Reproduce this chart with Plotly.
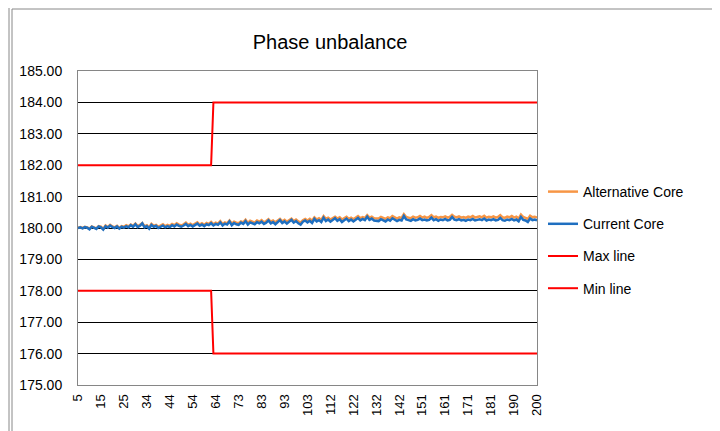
import plotly.graph_objects as go

# ---- data ----
tick_labels = ["5", "15", "25", "34", "44", "54", "64", "73", "83", "93", "103",
               "112", "122", "132", "142", "151", "161", "171", "181", "190", "200"]

current_core = [
    180.00, 180.02, 179.99, 180.03, 180.01, 179.96, 180.04, 180.00, 179.97, 180.05,
    180.02, 179.95, 180.06, 180.01, 180.08, 180.03, 180.00, 180.05, 179.98, 180.04,
    180.01, 180.06, 180.02, 180.09, 180.04, 180.12, 180.03, 180.07, 180.15, 180.02,
    180.06, 179.98, 180.10, 180.04, 180.07, 180.00, 180.05, 180.08, 180.02, 180.06,
    180.03, 180.09, 180.05, 180.11, 180.07, 180.04, 180.08, 180.13, 180.06, 180.10,
    180.05, 180.09, 180.14, 180.07, 180.11, 180.06, 180.12, 180.09, 180.15, 180.08,
    180.13, 180.10, 180.18, 180.08, 180.14, 180.11, 180.21, 180.09, 180.16, 180.12,
    180.10, 180.17, 180.13, 180.22, 180.11, 180.18, 180.14, 180.12, 180.19, 180.15,
    180.20, 180.13, 180.17, 180.24, 180.15, 180.19, 180.12, 180.18, 180.25, 180.16,
    180.21, 180.14, 180.19, 180.26, 180.17, 180.22, 180.15, 180.11, 180.20, 180.24,
    180.18, 180.23, 180.16, 180.29, 180.21, 180.25, 180.19, 180.33, 180.22, 180.27,
    180.20, 180.26, 180.31, 180.23, 180.28, 180.19, 180.25, 180.30, 180.22, 180.27,
    180.21, 180.26, 180.32, 180.24, 180.29, 180.25, 180.36, 180.26, 180.30, 180.24,
    180.23, 180.22, 180.28, 180.24, 180.21, 180.27, 180.23, 180.31, 180.25, 180.22,
    180.26, 180.24, 180.38, 180.27, 180.25, 180.23, 180.28, 180.24, 180.26, 180.30,
    180.25, 180.27, 180.24, 180.26, 180.33, 180.25, 180.28, 180.23, 180.27, 180.25,
    180.29, 180.24, 180.26, 180.35, 180.27, 180.25, 180.28, 180.24, 180.26, 180.23,
    180.27, 180.25, 180.29, 180.24, 180.26, 180.28, 180.25, 180.30, 180.24, 180.27,
    180.25, 180.28, 180.24, 180.26, 180.32, 180.25, 180.23, 180.27, 180.25, 180.29,
    180.24, 180.27, 180.21, 180.35, 180.26, 180.24, 180.19, 180.30, 180.25, 180.27,
    180.24,
]

alternative_core = [
    180.01, 180.03, 180.00, 180.04, 180.02, 179.98, 180.05, 180.02, 179.99, 180.06,
    180.04, 179.97, 180.08, 180.03, 180.10, 180.05, 180.02, 180.07, 180.00, 180.06,
    180.04, 180.09, 180.05, 180.11, 180.07, 180.14, 180.06, 180.10, 180.16, 180.05,
    180.09, 180.02, 180.13, 180.07, 180.10, 180.04, 180.09, 180.12, 180.06, 180.10,
    180.07, 180.13, 180.09, 180.15, 180.11, 180.08, 180.12, 180.17, 180.10, 180.14,
    180.09, 180.13, 180.18, 180.11, 180.15, 180.10, 180.16, 180.13, 180.19, 180.12,
    180.17, 180.14, 180.22, 180.13, 180.18, 180.15, 180.24, 180.14, 180.20, 180.17,
    180.15, 180.21, 180.18, 180.26, 180.16, 180.23, 180.19, 180.17, 180.24, 180.20,
    180.25, 180.18, 180.22, 180.28, 180.20, 180.24, 180.18, 180.23, 180.29, 180.21,
    180.26, 180.20, 180.24, 180.30, 180.22, 180.27, 180.21, 180.17, 180.25, 180.29,
    180.24, 180.29, 180.23, 180.34, 180.27, 180.31, 180.26, 180.38, 180.29, 180.33,
    180.27, 180.32, 180.36, 180.30, 180.34, 180.27, 180.32, 180.36, 180.29, 180.33,
    180.28, 180.33, 180.38, 180.31, 180.35, 180.32, 180.41, 180.33, 180.36, 180.31,
    180.31, 180.30, 180.35, 180.32, 180.29, 180.34, 180.31, 180.38, 180.33, 180.30,
    180.34, 180.32, 180.44, 180.35, 180.33, 180.31, 180.36, 180.33, 180.34, 180.38,
    180.33, 180.36, 180.32, 180.35, 180.41, 180.34, 180.36, 180.32, 180.35, 180.34,
    180.37, 180.33, 180.35, 180.42, 180.36, 180.34, 180.37, 180.33, 180.35, 180.32,
    180.36, 180.34, 180.38, 180.33, 180.35, 180.37, 180.34, 180.39, 180.33, 180.36,
    180.34, 180.37, 180.33, 180.35, 180.41, 180.34, 180.32, 180.36, 180.34, 180.38,
    180.33, 180.36, 180.30, 180.43, 180.35, 180.33, 180.29, 180.39, 180.34, 180.36,
    180.33,
]

max_line = [182.0] * 59 + [184.0] * 142
min_line = [178.0] * 59 + [176.0] * 142

n_points = len(current_core)
x_idx = list(range(n_points))
tick_pos = list(range(0, n_points, 10))

FONT = "Liberation Sans, Arial, sans-serif"

# page has an 8px body margin; plot area target on screen: x 78..537, y 71..385
OFF = 8
W, H = 720 - OFF, 431 - OFF
L, T = 78 - OFF, 71 - OFF
PW, PH = 459, 314
R, B = W - L - PW, H - T - PH

def px_x(p):
    return (p - 78) / PW

def px_y(p):
    return (385 - p) / PH

fig = go.Figure()
fig.add_trace(go.Scatter(x=x_idx, y=alternative_core, mode="lines", name="Alternative Core",
                         line=dict(color="#F79646", width=2.5), legendgroup="a"))
fig.add_trace(go.Scatter(x=x_idx, y=current_core, mode="lines", name="Current Core",
                         line=dict(color="#1F6FC0", width=2.5), legendgroup="b"))
fig.add_trace(go.Scatter(x=x_idx, y=max_line, mode="lines", name="Max line",
                         line=dict(color="#FF0000", width=2), legendgroup="c"))
fig.add_trace(go.Scatter(x=x_idx, y=min_line, mode="lines", name="Min line",
                         line=dict(color="#FF0000", width=2), legendgroup="d"))

fig.update_layout(
    width=W, height=H,
    margin=dict(l=L, r=R, t=T, b=B),
    paper_bgcolor="white", plot_bgcolor="white",
    font=dict(family=FONT, size=13, color="#000000"),
    title=dict(text="Phase unbalance", x=px_x(330), xref="paper", xanchor="center",
               y=1 - (42 - OFF) / H, yanchor="middle", font=dict(size=20, color="#000")),
    showlegend=True,
    legend=dict(x=px_x(543), y=px_y(176), xanchor="left", yanchor="top",
                traceorder="grouped", tracegroupgap=11, font=dict(size=14, color="#000"),
                itemwidth=30, bgcolor="rgba(0,0,0,0)"),
)

fig.update_xaxes(range=[0, n_points - 1], tickmode="array", tickvals=tick_pos,
                 ticktext=tick_labels, tickangle=-90, tickfont=dict(size=13),
                 ticklabelstandoff=3,
                 showgrid=False, zeroline=False, showline=True, linecolor="#868686",
                 linewidth=1, mirror=True, ticks="")
fig.update_yaxes(range=[175, 185], dtick=1, tickformat=".2f", tickfont=dict(size=14),
                 ticklabelstandoff=12,
                 showgrid=True, gridcolor="#000000", gridwidth=1, zeroline=False,
                 showline=True, linecolor="#868686", linewidth=1, mirror=True, ticks="")

# chart border
fig.add_shape(type="rect", xref="paper", yref="paper",
              x0=px_x(12), x1=px_x(715), y0=px_y(440), y1=px_y(9),
              line=dict(color="#888888", width=1), layer="below")
fig.add_shape(type="line", xref="paper", yref="paper",
              x0=px_x(9), x1=px_x(9), y0=px_y(440), y1=px_y(8),
              line=dict(color="#888888", width=1), layer="below")

fig.write_html("out.html")
